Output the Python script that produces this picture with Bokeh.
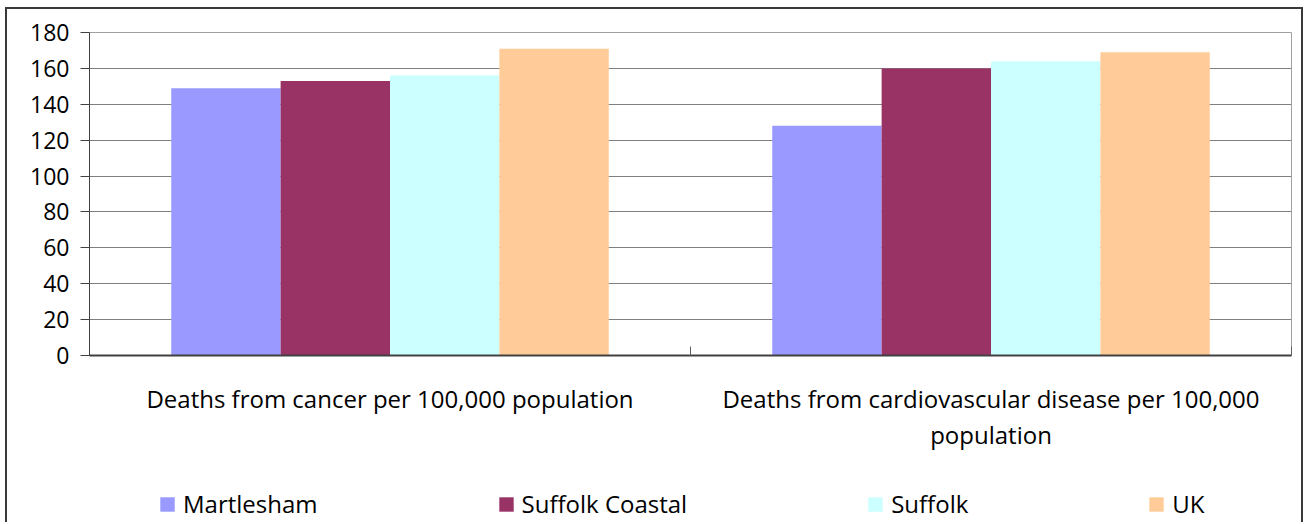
from bokeh.plotting import figure
from bokeh.layouts import column
from bokeh.models import (ColumnDataSource, Range1d, FixedTicker, Legend, LegendItem)
from bokeh.embed import file_html
from bokeh.resources import INLINE

categories = ["Deaths from cancer per 100,000 population",
              "Deaths from cardiovascular disease per 100,000\npopulation"]
series = ["Martlesham", "Suffolk Coastal", "Suffolk", "UK"]
colors = ["#9999FF", "#993366", "#CCFFFF", "#FFCC99"]
martlesham = [149, 128]
suffolk_coastal = [153, 160]
suffolk = [156, 164]
uk = [171, 169]
values = [martlesham, suffolk_coastal, suffolk, uk]
y_ticks = [0, 20, 40, 60, 80, 100, 120, 140, 160, 180]

FONT = "Open Sans"
FS = "24px"
FS_Y = "23px"
BAR_W = 0.182
BORDER = "2px solid #3a3a3a"

p = figure(width=1298, height=461, output_backend="svg", toolbar_location=None,
           x_range=Range1d(0, len(categories)), y_range=Range1d(0, 180),
           min_border_left=82, min_border_top=23, min_border_right=14, min_border_bottom=115)
p.styles = {"border-top": BORDER, "border-left": BORDER, "border-right": BORDER}

p.outline_line_color = "#a0a0a0"
p.outline_line_width = 1

sources = []
for j, (name, vals, col) in enumerate(zip(series, values, colors)):
    xs = [i + 0.5 + (j - 1.5) * BAR_W for i in range(len(categories))]
    src = ColumnDataSource(dict(x=xs, top=vals))
    sources.append(src)
    p.vbar(x="x", top="top", width=BAR_W, bottom=0, source=src,
           fill_color=col, line_color=None)

# y axis
p.yaxis.ticker = FixedTicker(ticks=y_ticks)
p.yaxis.major_tick_out = 9
p.yaxis.major_tick_in = 0
p.yaxis.minor_tick_line_color = None
p.yaxis.axis_line_color = "#404040"
p.yaxis.axis_line_width = 1
p.yaxis.major_tick_line_color = "#404040"
p.yaxis.major_label_text_font = FONT
p.yaxis.major_label_text_font_size = FS_Y
p.yaxis.major_label_text_color = "#000000"
p.yaxis.major_label_standoff = 11

# x axis
p.xaxis.ticker = FixedTicker(ticks=[i + 0.5 for i in range(len(categories))],
                             minor_ticks=list(range(len(categories) + 1)))
p.xaxis.major_label_overrides = {i + 0.5: c for i, c in enumerate(categories)}
p.xaxis.major_tick_line_color = None
p.xaxis.minor_tick_in = 9
p.xaxis.minor_tick_out = 0
p.xaxis.minor_tick_line_color = "#606060"
p.xaxis.axis_line_color = "#404040"
p.xaxis.axis_line_width = 2
p.xaxis.major_label_text_font = FONT
p.xaxis.major_label_text_font_size = FS
p.xaxis.major_label_text_color = "#000000"
p.xaxis.major_label_standoff = 20
p.xaxis.major_label_text_line_height = 1.1

p.xgrid.grid_line_color = None
p.ygrid.grid_line_color = "#808080"
p.ygrid.grid_line_width = 1

# legend strip below the chart (same data, drawn outside its visible range)
lg = figure(width=1298, height=54, output_backend="svg", toolbar_location=None,
            x_range=Range1d(0, len(categories)), y_range=Range1d(1000, 1001),
            min_border_left=0, min_border_right=0, min_border_top=0, min_border_bottom=0)
lg.styles = {"border-left": BORDER, "border-right": BORDER}
lg.axis.visible = False
lg.grid.visible = False
lg.outline_line_color = None
items = []
for name, col, src in zip(series, colors, sources):
    r = lg.vbar(x="x", top="top", width=BAR_W, bottom=0, source=src,
                fill_color=col, line_color=None)
    items.append(LegendItem(label=name, renderers=[r]))
legend = Legend(items=items, orientation="horizontal", location=(69, 2),
                glyph_width=18, glyph_height=18, label_standoff=7,
                spacing=179, padding=0, margin=0,
                label_text_font=FONT, label_text_font_size=FS, label_text_color="#000000",
                border_line_color=None, background_fill_alpha=0)
lg.add_layout(legend)

layout = column(p, lg, spacing=0)
layout.styles = {"margin-left": "5px", "margin-top": "7px"}

open("out.html", "w").write(file_html(layout, INLINE))
